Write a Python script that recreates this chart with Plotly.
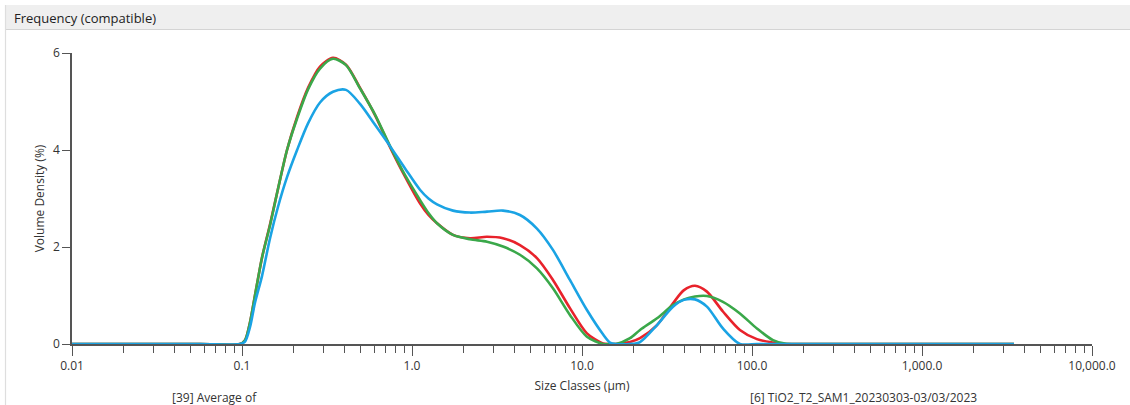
import plotly.graph_objects as go

# Size classes (µm)
size_um = [0.01, 0.0566, 0.0973, 0.1042, 0.1115, 0.1192, 0.1311, 0.1462, 0.1629, 0.184,
           0.2109, 0.2446, 0.2877, 0.343, 0.4089, 0.4946, 0.6058, 0.7426, 0.9102, 1.114,
           1.25, 1.403, 1.742, 2.193, 2.761, 3.428, 4.315, 5.432, 6.745, 8.491, 10.69,
           13.29, 14.6, 15.85, 19.16, 21.94, 27.62, 34.29, 39.81, 46.2, 54.3,
           67.45, 84.9, 106.9, 132.9, 156.3, 191.4, 3475.0]

red_vals = [0, 0, 0, 0.08, 0.45, 1.0, 1.78, 2.47, 3.2, 4.0,
            4.68, 5.28, 5.72, 5.9, 5.76, 5.28, 4.72, 4.06, 3.45, 2.90,
            2.66, 2.49, 2.25, 2.18, 2.21, 2.18, 2.04, 1.77, 1.32, 0.74, 0.22,
            0.01, 0.0, 0.0, 0.04, 0.12, 0.39, 0.84, 1.11, 1.20, 1.08,
            0.67, 0.29, 0.10, 0.03, 0.0, 0.0, 0.0]

green_vals = [0, 0, 0, 0.08, 0.45, 1.0, 1.78, 2.45, 3.2, 4.0,
              4.65, 5.25, 5.68, 5.88, 5.75, 5.27, 4.73, 4.08, 3.48, 2.97,
              2.70, 2.49, 2.25, 2.16, 2.11, 2.01, 1.84, 1.56, 1.15, 0.60, 0.15,
              0.0, 0.0, 0.0, 0.12, 0.29, 0.53, 0.80, 0.92, 0.98, 0.99,
              0.87, 0.63, 0.32, 0.08, 0.01, 0.0, 0.0]

blue_vals = [0, 0, 0, 0.05, 0.35, 0.85, 1.4, 2.18, 2.83, 3.44,
             4.0, 4.55, 4.98, 5.2, 5.24, 4.95, 4.52, 4.08, 3.62, 3.18,
             3.0, 2.88, 2.75, 2.71, 2.73, 2.75, 2.66, 2.38, 1.94, 1.32, 0.70,
             0.20, 0.03, 0.0, 0.0, 0.04, 0.39, 0.77, 0.91, 0.92, 0.77,
             0.32, 0.0, 0.0, 0.0, 0.0, 0.0, 0.0]

x_tickvals = [0.01, 0.1, 1, 10, 100, 1000, 10000]
x_ticktext = ["0.01", "0.1", "1.0", "10.0", "100.0", "1,000.0", "10,000.0"]
y_tickvals = [0, 2, 4, 6]

FONT = "Open Sans"
AXC = "#555555"
TXT = "#333333"

fig = go.Figure()
for name, vals, col in [("[39] Average of", red_vals, "#e8222b"),
                        ("green", green_vals, "#3aa84a"),
                        ("[6] TiO2_T2_SAM1_20230303-03/03/2023", blue_vals, "#1aa3e4")]:
    fig.add_trace(go.Scatter(x=size_um, y=vals, mode="lines", name=name,
                             line=dict(color=col, width=2.6, shape="spline", smoothing=0.8),
                             showlegend=False, hoverinfo="x+y"))

W, H = 1130, 405
L, R, T, B = 72, 38, 53, 61
pw, ph = W - L - R, H - T - B

def px(x):
    return (x - L) / pw

def py(y):
    return (H - B - y) / ph

fig.update_layout(
    width=W, height=H,
    margin=dict(l=L, r=R, t=T, b=B),
    paper_bgcolor="white", plot_bgcolor="white",
    font=dict(family=FONT, size=12, color=TXT),
    xaxis=dict(type="log", range=[-2, 4], tickmode="array", tickvals=x_tickvals,
               ticktext=x_ticktext, ticks="outside", ticklen=10, tickwidth=1.3,
               tickcolor=AXC, showline=True, linecolor=AXC, linewidth=1.6,
               showgrid=False, zeroline=False,
               tickfont=dict(family=FONT, size=12, color=TXT),
               minor=dict(ticks="outside", ticklen=7, tickwidth=1.3, tickcolor=AXC,
                          dtick="D1", showgrid=False),
               title=dict(text="Size Classes (µm)", standoff=8,
                          font=dict(family=FONT, size=12, color=TXT))),
    yaxis=dict(range=[0, 6], tickmode="array", tickvals=y_tickvals,
               ticks="outside", ticklen=8, tickwidth=1.3, tickcolor=AXC,
               showline=True, linecolor=AXC, linewidth=1.6,
               showgrid=False, zeroline=False,
               tickfont=dict(family=FONT, size=12, color=TXT),
               title=dict(text="Volume Density (%)", standoff=6,
                          font=dict(family=FONT, size=12, color=TXT))),
    shapes=[
        dict(type="rect", xref="paper", yref="paper", x0=px(5), x1=px(1130),
             y0=py(29), y1=py(5), fillcolor="#efefef", line=dict(width=0), layer="below"),
        dict(type="line", xref="paper", yref="paper", x0=px(5), x1=px(1130),
             y0=py(29.5), y1=py(29.5), line=dict(color="#d4d4d4", width=1.2)),
        dict(type="line", xref="paper", yref="paper", x0=px(5.5), x1=px(5.5),
             y0=py(5), y1=py(405), line=dict(color="#dedede", width=1.2)),
    ],
    annotations=[
        dict(text="Frequency (compatible)", xref="paper", yref="paper",
             x=px(12), y=py(18), xanchor="left", yanchor="middle", showarrow=False,
             font=dict(family=FONT, size=13, color="#222222")),
        dict(text="[39] Average of", xref="paper", yref="paper",
             x=px(170), y=py(397), xanchor="left", yanchor="middle", showarrow=False,
             font=dict(family=FONT, size=12, color=TXT)),
        dict(text="[6] TiO2_T2_SAM1_20230303-03/03/2023", xref="paper", yref="paper",
             x=px(748), y=py(397), xanchor="left", yanchor="middle", showarrow=False,
             font=dict(family=FONT, size=12, color=TXT)),
    ],
)

fig.write_html("out.html")
